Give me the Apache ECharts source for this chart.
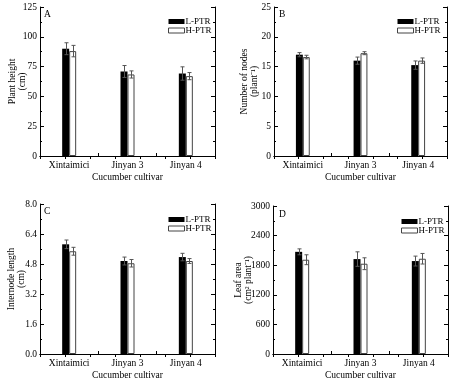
<!DOCTYPE html>
<html>
<head>
<meta charset="utf-8">
<script src="https://cdn.jsdelivr.net/npm/echarts@6/dist/echarts.min.js"></script>
<style>html,body{margin:0;padding:0;background:#fff}#c{width:474px;height:381px}</style>
</head>
<body>
<div id="c"></div>
<script>
var categories = ['Xintaimici', 'Jinyan 3', 'Jinyan 4'];
var seriesNames = ['L-PTR', 'H-PTR'];

var heightL = [90, 70.9, 69.2];
var heightLErr = [5, 5, 5.6];
var heightH = [88, 68.4, 67];
var heightHErr = [4.8, 3, 3];

var nodesL = [17.0, 16.0, 15.25];
var nodesLErr = [0.35, 0.6, 0.7];
var nodesH = [16.6, 17.25, 16.0];
var nodesHErr = [0.3, 0.25, 0.45];

var internodeL = [5.85, 4.96, 5.17];
var internodeLErr = [0.23, 0.21, 0.2];
var internodeH = [5.48, 4.84, 4.96];
var internodeHErr = [0.21, 0.2, 0.13];

var leafL = [2071, 1924, 1884];
var leafLErr = [60, 147, 100];
var leafH = [1911, 1830, 1931];
var leafHErr = [100, 120, 107];

var yNames = ['Plant height\n(cm)', 'Number of nodes\n(plant\u207B\u00B9)', 'Internode length\n(cm)', 'Leaf area\n(cm\u00B2 plant\u207B\u00B9)'];
var xName = 'Cucumber cultivar';
var panelLetters = ['A', 'B', 'C', 'D'];
var yMax = [125, 25, 8, 3000];
var yInterval = [25, 5, 1.6, 600];
var yDecimals = [0, 0, 1, 0];

var panels = [
  {L: heightL, LE: heightLErr, H: heightH, HE: heightHErr},
  {L: nodesL, LE: nodesLErr, H: nodesH, HE: nodesHErr},
  {L: internodeL, LE: internodeLErr, H: internodeH, HE: internodeHErr},
  {L: leafL, LE: leafLErr, H: leafH, HE: leafHErr}
];

var FONT = 'Liberation Serif';
var FS = 9.5;
var grids = [
  {left: 40, top: 7, width: 175, height: 149},
  {left: 274, top: 7, width: 173, height: 149},
  {left: 40, top: 204, width: 175, height: 150},
  {left: 273, top: 206, width: 175, height: 150}
];
var nameGaps = [13, 15, 14, 20];
var legendPos = [{left: 168, top: 17}, {left: 397, top: 17}, {left: 168, top: 215}, {left: 401, top: 217}];
var letterPos = [[44, 9], [279, 9], [44, 206], [279, 209]];

var axisLine = {show: true, lineStyle: {color: '#000', width: 1}};
var option = {
  animation: false,
  backgroundColor: '#fff',
  grid: [], xAxis: [], yAxis: [], series: [], legend: [], graphic: []
};

function errRender(sign) {
  return function (params, api) {
    var i = api.value(0), v = api.value(1), e = api.value(2);
    var band = api.size([1, 0])[0];
    var off = sign * band * 0.06;
    var top = api.coord([i, v + e]);
    var bot = api.coord([i, v - e]);
    var x = Math.round(top[0] + off) + 0.5;
    var cap = 2;
    var st = {stroke: '#555', lineWidth: 1};
    return {type: 'group', children: [
      {type: 'line', shape: {x1: x, y1: top[1], x2: x, y2: bot[1]}, style: st},
      {type: 'line', shape: {x1: x - cap, y1: top[1], x2: x + cap, y2: top[1]}, style: st},
      {type: 'line', shape: {x1: x - cap, y1: bot[1], x2: x + cap, y2: bot[1]}, style: st}
    ]};
  };
}

panels.forEach(function (p, k) {
  option.grid.push(grids[k]);
  option.xAxis.push({
    type: 'category', gridIndex: k, data: categories, position: 'bottom',
    axisLine: axisLine,
    axisTick: {show: true, inside: true, length: 3, lineStyle: {color: '#000'}},
    axisLabel: {color: '#000', fontFamily: FONT, fontSize: FS, margin: 4},
    name: xName, nameLocation: 'middle', nameGap: 16, nameMoveOverlap: false,
    nameTextStyle: {color: '#000', fontFamily: FONT, fontSize: FS}
  });
  option.xAxis.push({
    type: 'value', gridIndex: k, position: 'top', min: 0, max: 7, interval: 1,
    axisLine: axisLine,
    axisTick: {show: true, inside: true, length: 3, lineStyle: {color: '#000'}},
    axisLabel: {show: false}, splitLine: {show: false}
  });
  var dec = yDecimals[k];
  option.yAxis.push({
    type: 'value', gridIndex: k, min: 0, max: yMax[k], interval: yInterval[k], position: 'left',
    axisLine: axisLine,
    axisTick: {show: true, inside: true, length: 4, lineStyle: {color: '#000'}},
    minorTick: {show: true, splitNumber: 2, length: 2, lineStyle: {color: '#000'}},
    axisLabel: {color: '#000', fontFamily: FONT, fontSize: FS, margin: 3,
      formatter: function (v) { return v.toFixed(dec); }},
    splitLine: {show: false},
    name: yNames[k], nameLocation: 'middle', nameRotate: 90, nameGap: nameGaps[k],
    nameMoveOverlap: false,
    nameTextStyle: {color: '#000', fontFamily: FONT, fontSize: FS, lineHeight: 10}
  });
  option.yAxis.push({
    type: 'value', gridIndex: k, min: 0, max: yMax[k], interval: yInterval[k], position: 'right',
    axisLine: axisLine,
    axisTick: {show: true, inside: true, length: 4, lineStyle: {color: '#000'}},
    minorTick: {show: true, splitNumber: 2, length: 2, lineStyle: {color: '#000'}},
    axisLabel: {show: false}, splitLine: {show: false}
  });
  var xi = k * 2, yi = k * 2;
  option.series.push({
    type: 'bar', name: seriesNames[0], xAxisIndex: xi, yAxisIndex: yi, data: p.L,
    barWidth: '12%', barGap: '0%',
    itemStyle: {color: '#000', borderColor: '#000', borderWidth: 0}
  });
  option.series.push({
    type: 'bar', name: seriesNames[1], xAxisIndex: xi, yAxisIndex: yi, data: p.H,
    barWidth: '12%', barGap: '0%',
    itemStyle: {color: '#fff', borderColor: '#444', borderWidth: 1}
  });
  option.series.push({
    type: 'custom', xAxisIndex: xi, yAxisIndex: yi, z: 5,
    data: p.L.map(function (v, i) { return [i, v, p.LE[i]]; }),
    encode: {x: 0, y: 1}, renderItem: errRender(-1)
  });
  option.series.push({
    type: 'custom', xAxisIndex: xi, yAxisIndex: yi, z: 5,
    data: p.H.map(function (v, i) { return [i, v, p.HE[i]]; }),
    encode: {x: 0, y: 1}, renderItem: errRender(1)
  });
  option.legend.push({
    left: legendPos[k].left, top: legendPos[k].top, orient: 'vertical',
    data: [{name: seriesNames[0], itemStyle: {color: '#000'}},
           {name: seriesNames[1], itemStyle: {color: '#fff', borderColor: '#444', borderWidth: 1}}],
    icon: 'rect', itemWidth: 16, itemHeight: 5, itemGap: 0, padding: 0,
    selectedMode: false,
    textStyle: {color: '#000', fontFamily: FONT, fontSize: 9, lineHeight: 9, padding: [0, 0, 0, -4]}
  });
  option.graphic.push({
    type: 'text', left: letterPos[k][0], top: letterPos[k][1],
    style: {text: panelLetters[k], fill: '#000', font: FS + 'px "' + FONT + '"'}
  });
});

var chart = echarts.init(document.getElementById('c'), null, {renderer: 'canvas'});
chart.setOption(option);
</script>
</body>
</html>
